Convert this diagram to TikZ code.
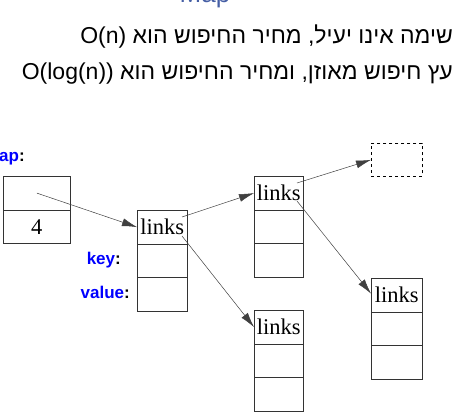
\documentclass[tikz,border=0pt]{standalone}
\usepackage{fontspec}
\setmainfont{Liberation Serif}
\newfontfamily\hebfont[Script=Hebrew]{Liberation Sans}
\newfontfamily\lsans{Liberation Sans}
\TeXXeTstate=1
\usetikzlibrary{arrows.meta}
\definecolor{titleblue}{RGB}{70,95,165}
\begin{document}
\begin{tikzpicture}[x=1pt,y=-1pt,
  cell/.style={draw=black!80, line width=0.7pt, minimum width=50pt, minimum height=33.5pt,
    inner sep=0pt, anchor=north west, font=\fontsize{22.5}{22.5}\selectfont},
  lbl/.style={font=\lsans\bfseries\fontsize{17}{17}\selectfont, text=blue, inner sep=0pt},
  conn/.style={draw=black!75, line width=0.5pt, -{Latex[length=15pt,width=8pt]}},
  hebline/.style={font=\hebfont\fontsize{23}{27}\selectfont, anchor=base east, inner sep=0pt}]
\useasboundingbox (0,0) rectangle (457,417);
\clip (0,0) rectangle (457,417);
% title fragment
\node[font=\lsans\fontsize{26}{26}\selectfont, text=titleblue, anchor=base, inner sep=0pt] (title) at (205,3) {Map};
% hebrew lines
\node[hebline] (h1) at (453,44) {\beginR שימה אינו יעיל, מחיר החיפוש הוא \beginL O(n)\endL\endR};
\node[hebline] (h2) at (453,80) {\beginR עץ חיפוש מאוזן, ומחיר החיפוש הוא \beginL O(log(n))\endL\endR};
% labels
\node[lbl, anchor=west] (lmap) at (-1,159) {ap\textcolor{black}{:}};
\node[lbl, anchor=east] (lkey) at (121,260) {key\textcolor{black}{:}};
\node[lbl, anchor=east] (lval) at (130,292) {value\textcolor{black}{:}};
% map box
\node[cell, minimum width=67pt] (m1) at (3,176) {};
\node[cell, minimum width=67pt] (m2) at (3,209.5) {4};
% box 1
\node[cell] (b1a) at (137,210) {links};
\node[cell] (b1b) at (137,243.5) {};
\node[cell] (b1c) at (137,277) {};
% box 2
\node[cell, minimum width=49pt] (b2a) at (254,176) {links};
\node[cell, minimum width=49pt] (b2b) at (254,209.5) {};
\node[cell, minimum width=49pt] (b2c) at (254,243) {};
% box 3
\node[cell, minimum width=49pt] (b3a) at (254,310) {links};
\node[cell, minimum width=49pt] (b3b) at (254,343.5) {};
\node[cell, minimum width=49pt] (b3c) at (254,377) {};
% box 4
\node[cell, minimum width=51pt] (b4a) at (371,278) {links};
\node[cell, minimum width=51pt] (b4b) at (371,311.5) {};
\node[cell, minimum width=51pt] (b4c) at (371,345) {};
% dashed box
\node[cell, minimum width=51pt, minimum height=33pt, dashed, draw=black] (nul) at (371,143) {};
% connector start points
\coordinate (s1a) at (182,217);
\coordinate (s1b) at (182,236);
\coordinate (s2a) at (297,183);
\coordinate (s2b) at (297,201);
% connectors
\draw[conn] (m1.center) -- (b1a.west);
\draw[conn] (s1a) -- (b2a.west);
\draw[conn] (s1b) -- (b3a.west);
\draw[conn] (s2a) -- (nul.west);
\draw[conn] (s2b) -- ([yshift=1.5pt]b4a.west);
\end{tikzpicture}
\end{document}
